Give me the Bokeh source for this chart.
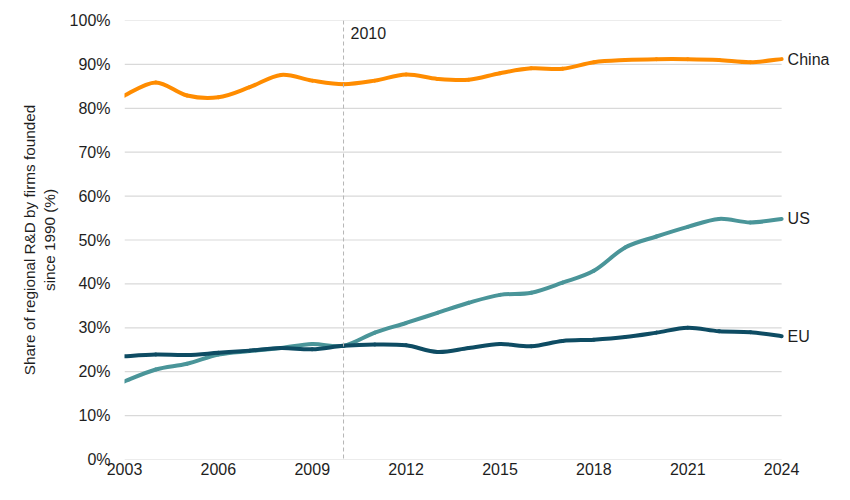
from bokeh.plotting import figure
from bokeh.models import Range1d, Span, Label, FixedTicker, PrintfTickFormatter
from bokeh.embed import file_html
from bokeh.resources import INLINE

years = list(range(2003, 2025))
china = [82.9, 85.9, 82.9, 82.5, 84.8, 87.6, 86.3, 85.5, 86.3, 87.7, 86.7,
         86.5, 88.0, 89.1, 89.0, 90.5, 91.0, 91.2, 91.2, 91.0, 90.5, 91.2]
us = [17.8, 20.5, 21.8, 23.9, 24.7, 25.4, 26.3, 25.9, 28.9, 31.1, 33.4,
      35.7, 37.5, 38.0, 40.3, 43.0, 48.3, 50.8, 53.0, 54.8, 54.0, 54.8]
eu = [23.5, 23.9, 23.8, 24.3, 24.8, 25.4, 25.1, 25.9, 26.2, 26.0, 24.5,
      25.4, 26.3, 25.8, 27.0, 27.3, 27.9, 28.9, 30.0, 29.2, 29.0, 28.1]
series_names = ["China", "US", "EU"]
series_colors = ["#FF8C00", "#4A9599", "#0E4C63"]
x_ticks = [2003, 2006, 2009, 2012, 2015, 2018, 2021, 2024]
y_ticks = list(range(0, 101, 10))
marker_year = 2010

FONT = "Liberation Sans"
TXT = "#1e1e1e"

p = figure(width=834, height=484, output_backend="svg", toolbar_location=None,
           x_range=Range1d(2003, 2025.53), y_range=Range1d(0, 100),
           min_border_left=124, min_border_right=5, min_border_top=20,
           min_border_bottom=25)
p.outline_line_color = None
p.background_fill_color = "white"

# axes
p.xaxis.ticker = FixedTicker(ticks=x_ticks)
p.yaxis.ticker = FixedTicker(ticks=y_ticks)
p.yaxis.formatter = PrintfTickFormatter(format="%d%%")
for ax in (p.xaxis, p.yaxis):
    ax.axis_line_color = None
    ax.major_tick_line_color = None
    ax.minor_tick_line_color = None
    ax.major_tick_out = 0
    ax.major_label_text_font = FONT
    ax.major_label_text_font_size = "16px"
    ax.major_label_text_color = TXT
p.yaxis.major_label_standoff = 14
p.xaxis.major_label_standoff = 3
p.yaxis.axis_label = "Share of regional R&D by firms founded\nsince 1990 (%)"
p.yaxis.axis_label_text_font = FONT
p.yaxis.axis_label_text_font_size = "15.3px"
p.yaxis.axis_label_text_font_style = "normal"
p.yaxis.axis_label_text_color = TXT
p.yaxis.axis_label_text_line_height = 1.18
p.yaxis.axis_label_standoff = 9

# horizontal gridlines, spanning the data years only
p.xgrid.grid_line_color = None
p.ygrid.grid_line_color = None
p.segment(x0=[years[0]] * len(y_ticks), y0=y_ticks,
          x1=[years[-1]] * len(y_ticks), y1=y_ticks,
          line_color="#d9d9d9", line_width=1.2)

# 2010 marker
p.add_layout(Span(location=marker_year, dimension="height", line_color="#b5b5b5",
                  line_width=1, line_dash="4 3"))
p.add_layout(Label(x=marker_year, y=97.2, x_offset=7, text=str(marker_year),
                   text_font=FONT, text_font_size="16px", text_color=TXT,
                   text_baseline="middle"))


def smooth_segments(xs, ys):
    n = len(xs)
    out = dict(x0=[], y0=[], x1=[], y1=[], cx0=[], cy0=[], cx1=[], cy1=[])
    for i in range(n - 1):
        xm, ym = (xs[i - 1], ys[i - 1]) if i > 0 else (xs[i], ys[i])
        xp, yp = (xs[i + 2], ys[i + 2]) if i + 2 < n else (xs[i + 1], ys[i + 1])
        out["x0"].append(xs[i]); out["y0"].append(ys[i])
        out["x1"].append(xs[i + 1]); out["y1"].append(ys[i + 1])
        out["cx0"].append(xs[i] + (xs[i + 1] - xm) / 6)
        out["cy0"].append(ys[i] + (ys[i + 1] - ym) / 6)
        out["cx1"].append(xs[i + 1] - (xp - xs[i]) / 6)
        out["cy1"].append(ys[i + 1] - (yp - ys[i]) / 6)
    return out


for name, vals, col in zip(series_names, [china, us, eu], series_colors):
    seg = smooth_segments(years, vals)
    p.bezier(source=seg, x0="x0", y0="y0", x1="x1", y1="y1",
             cx0="cx0", cy0="cy0", cx1="cx1", cy1="cy1",
             line_color=col, line_width=4, line_cap="round")
    p.add_layout(Label(x=years[-1], y=vals[-1], x_offset=6, text=name,
                       text_font=FONT, text_font_size="16px", text_color=TXT,
                       text_baseline="middle"))

open("out.html", "w").write(file_html(p, INLINE))
